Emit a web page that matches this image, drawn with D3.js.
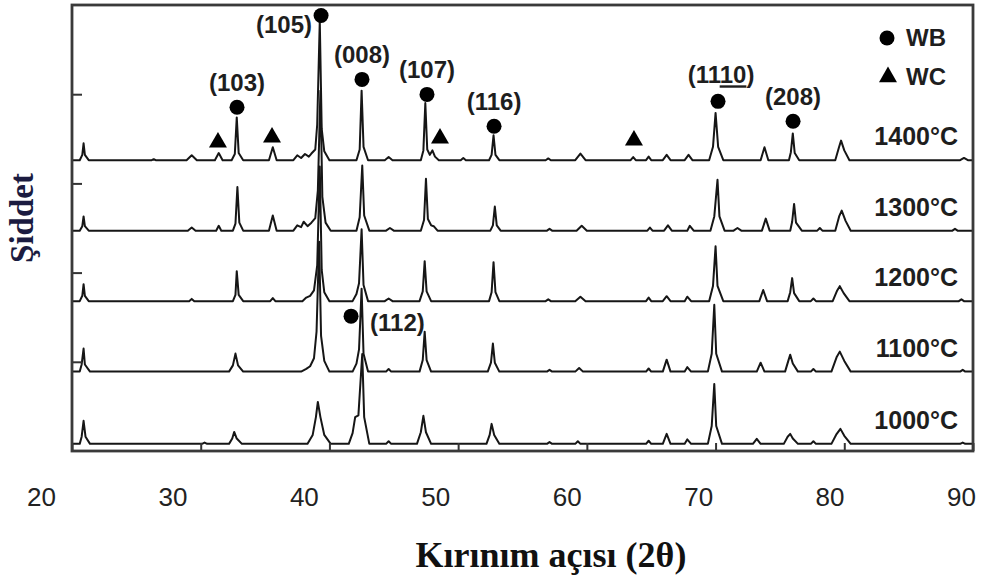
<!DOCTYPE html>
<html>
<head>
<meta charset="utf-8">
<script src="https://cdn.jsdelivr.net/npm/d3@7"></script>
<style>
  body { margin: 0; background: #fff; }
  svg { display: block; }
</style>
</head>
<body>
<svg id="chart" width="997" height="586"></svg>
<script>
// x ticks (2theta, degrees)
var thetaTicks = [20, 30, 40, 50, 60, 70, 80, 90];
var intensityTicks = [1000, 2000, 3000, 4000];

// temperatures, top to bottom, and the vertical offset of each pattern (a.u.)
var temps = ["1400°C", "1300°C", "1200°C", "1100°C", "1000°C"];
var offsets = [3260, 2470, 1680, 890, 80];

// patterns: [2theta, intensity above own baseline]
var p1400 = [[20,0],[20.6,0],[20.8,60],[20.9,190],[21.0,60],[21.3,0],
  [26.2,0],[26.35,12],[26.5,0],
  [28.9,0],[29.3,55],[29.7,0],[31.1,0],[31.4,80],[31.7,0],
  [32.4,0],[32.65,70],[32.8,480],[32.95,80],[33.3,0],
  [35.3,0],[35.6,145],[35.9,0],
  [37.2,0],[37.5,55],[37.8,25],[38.1,70],[38.4,40],[38.6,75],[38.9,120],
  [39.05,400],[39.25,1560],[39.4,350],[39.6,100],[40.0,0],
  [42.1,0],[42.35,120],[42.5,780],[42.65,150],[43.0,0],
  [44.3,0],[44.6,35],[44.9,0],
  [47.1,0],[47.3,110],[47.45,640],[47.6,120],[47.8,60],[48.0,110],[48.2,40],[48.5,0],
  [50.2,0],[50.4,25],[50.6,0],
  [52.4,0],[52.6,60],[52.75,280],[52.9,60],[53.2,0],
  [56.8,0],[57.0,20],[57.2,0],[59.1,0],[59.5,75],[59.9,0],
  [63.4,0],[63.6,35],[63.8,0],[64.6,0],[64.8,40],[65.0,0],
  [65.9,0],[66.2,60],[66.5,0],[67.6,0],[67.9,60],[68.2,0],
  [69.5,0],[69.8,150],[70.0,530],[70.2,150],[70.6,0],
  [73.5,0],[73.8,145],[74.1,0],
  [75.7,0],[75.85,90],[76.0,300],[76.15,80],[76.5,0],
  [79.3,0],[79.6,150],[79.75,220],[80.0,110],[80.4,0],
  [89.0,0],[89.3,25],[89.6,0],[90,0]];

var p1300 = [[20,0],[20.6,0],[20.8,50],[20.9,160],[21.0,50],[21.3,0],
  [29.0,0],[29.3,35],[29.6,0],[31.2,0],[31.4,55],[31.6,0],
  [32.5,0],[32.7,80],[32.85,490],[33.0,90],[33.3,0],
  [35.3,0],[35.6,170],[35.9,0],
  [37.2,0],[37.5,60],[37.8,40],[38.0,100],[38.3,50],[38.6,90],[38.9,140],
  [39.1,450],[39.3,1570],[39.45,380],[39.7,90],[40.1,0],
  [42.1,0],[42.35,150],[42.55,730],[42.7,170],[43.1,0],
  [44.4,0],[44.7,30],[45.0,0],
  [47.1,0],[47.35,120],[47.5,582],[47.65,130],[47.9,60],[48.1,50],[48.4,0],
  [52.5,0],[52.7,60],[52.85,270],[53.0,60],[53.3,0],
  [56.9,0],[57.1,20],[57.3,0],[59.2,0],[59.6,55],[60.0,0],
  [64.7,0],[64.9,35],[65.1,0],[66.0,0],[66.3,60],[66.6,0],
  [67.8,0],[68.0,55],[68.3,0],
  [69.6,0],[69.9,160],[70.15,570],[70.3,160],[70.7,0],
  [71.4,0],[71.7,30],[72.0,0],[73.6,0],[73.9,135],[74.2,0],
  [75.8,0],[75.95,100],[76.1,300],[76.25,90],[76.7,0],
  [77.9,0],[78.1,30],[78.3,0],
  [79.3,0],[79.6,160],[79.8,225],[80.1,110],[80.5,0],
  [88.4,0],[88.6,20],[88.8,0],[90,0]];

var p1200 = [[20,0],[20.6,0],[20.8,60],[20.9,190],[21.0,60],[21.3,0],
  [29.1,0],[29.3,25],[29.5,0],
  [32.5,0],[32.7,70],[32.8,336],[32.95,70],[33.3,0],
  [35.4,0],[35.6,35],[35.8,0],
  [37.9,0],[38.2,40],[38.5,60],[38.8,120],
  [39.05,400],[39.25,1510],[39.4,350],[39.6,100],[40.0,0],
  [41.8,0],[42.1,80],[42.3,200],[42.5,806],[42.65,180],[43.0,0],
  [44.3,0],[44.6,30],[44.9,0],
  [47.0,0],[47.25,110],[47.4,448],[47.55,110],[47.9,0],
  [52.4,0],[52.6,100],[52.75,437],[52.9,100],[53.2,0],
  [56.8,0],[57.0,20],[57.2,0],[59.1,0],[59.5,50],[59.9,0],
  [64.6,0],[64.8,40],[65.0,0],[65.9,0],[66.2,55],[66.5,0],
  [67.6,0],[67.8,50],[68.1,0],
  [69.5,0],[69.8,170],[70.0,616],[70.15,170],[70.6,0],
  [73.4,0],[73.7,125],[74.0,0],
  [75.6,0],[75.8,100],[75.95,258],[76.1,90],[76.5,0],
  [77.4,0],[77.6,30],[77.8,0],
  [79.1,0],[79.45,120],[79.65,168],[79.95,90],[80.4,0],
  [88.9,0],[89.1,20],[89.3,0],[90,0]];

var p1100 = [[20,0],[20.6,0],[20.75,80],[20.9,258],[21.0,80],[21.4,0],
  [32.2,0],[32.5,70],[32.7,202],[32.9,70],[33.3,0],
  [37.8,0],[38.2,30],[38.5,60],[38.8,150],
  [39.0,450],[39.2,1456],[39.35,400],[39.6,120],[40.0,0],
  [41.8,0],[42.1,90],[42.3,250],[42.5,930],[42.65,200],[43.0,0],
  [44.4,0],[44.6,30],[44.8,0],
  [47.0,0],[47.25,130],[47.4,448],[47.55,130],[47.9,0],
  [52.3,0],[52.55,100],[52.7,314],[52.85,100],[53.2,0],
  [56.9,0],[57.1,20],[57.3,0],[59.1,0],[59.4,40],[59.7,0],
  [64.6,0],[64.8,35],[65.0,0],[65.9,0],[66.2,134],[66.5,0],
  [67.6,0],[67.8,50],[68.1,0],
  [69.4,0],[69.7,200],[69.9,750],[70.05,200],[70.5,0],
  [73.2,0],[73.5,100],[73.8,0],
  [75.4,0],[75.65,120],[75.8,190],[76.0,90],[76.4,0],
  [77.4,0],[77.6,30],[77.8,0],
  [79.0,0],[79.4,160],[79.65,224],[80.0,120],[80.5,0],
  [89.0,0],[89.2,20],[89.4,0],[90,0]];

var p1000 = [[20,0],[20.6,0],[20.75,80],[20.9,258],[21.05,80],[21.4,0],
  [30.1,0],[30.3,15],[30.5,0],
  [32.2,0],[32.45,60],[32.6,134],[32.8,60],[33.2,0],
  [38.3,0],[38.7,100],[38.95,300],[39.1,470],[39.3,300],[39.6,100],[40.1,0],
  [41.5,0],[41.8,120],[42.0,300],[42.25,320],[42.55,1008],[42.7,300],[43.1,0],
  [44.4,0],[44.6,30],[44.8,0],
  [46.8,0],[47.1,130],[47.3,314],[47.5,130],[47.9,0],
  [52.2,0],[52.45,100],[52.6,224],[52.8,100],[53.2,0],
  [56.9,0],[57.1,20],[57.3,0],[59.1,0],[59.3,30],[59.5,0],
  [64.6,0],[64.8,35],[65.0,0],[65.9,0],[66.2,112],[66.5,0],
  [67.6,0],[67.8,50],[68.1,0],
  [69.4,0],[69.7,200],[69.9,672],[70.05,200],[70.5,0],
  [72.9,0],[73.2,56],[73.5,0],
  [75.3,0],[75.6,80],[75.8,112],[76.0,60],[76.4,0],
  [77.4,0],[77.6,30],[77.8,0],
  [79.0,0],[79.4,110],[79.7,168],[80.0,90],[80.5,0],
  [89.0,0],[89.2,15],[89.4,0],[90,0]];

var patterns = [p1400, p1300, p1200, p1100, p1000];

// WB reflections: [hkl, 2theta, level]
var wbPeaks = [["(103)",32.82,3853],["(105)",39.35,4883],["(008)",42.53,4166],
  ["(107)",47.58,3998],["(116)",52.79,3640],["(1110)",70.19,3920],
  ["(208)",76.02,3696],["(112)",41.68,1512]];
// WC reflections: [2theta, level]
var wcPeaks = [[31.34,3461],[35.54,3517],[48.59,3506],[63.66,3483]];

var svg = d3.select("#chart");
var L = 72, R = 973, T = 5, B = 451;
var x = d3.scaleLinear().domain([20, 90]).range([L, R]);
var y = d3.scaleLinear().domain([0, 5000]).range([B, T]);
// the tick labels sit on their own spacing in the figure
var xl = d3.scaleLinear().domain([20, 90]).range([41, 961]);

var ink = "#161616";
var lab = "Liberation Sans, Arial, sans-serif";

// traces
var line = d3.line().x(function(d){ return x(d[0]); });
patterns.forEach(function(p, i){
  line.y(function(d){ return y(d[1] + offsets[i]); });
  svg.append("path")
    .attr("d", line(p))
    .attr("fill", "none")
    .attr("stroke", ink)
    .attr("stroke-width", 2)
    .attr("stroke-linejoin", "round");
  svg.append("text")
    .attr("x", 958)
    .attr("y", y(offsets[i]) - 15)
    .attr("text-anchor", "end")
    .attr("font-family", lab)
    .attr("font-weight", "bold")
    .attr("font-size", 25)
    .attr("fill", "#1e1e1e")
    .text(temps[i]);
});

// axes (inward ticks, no labels)
var gx = svg.append("g").attr("transform", "translate(0," + B + ")")
  .call(d3.axisBottom(x).tickValues(thetaTicks).tickSize(-8).tickFormat(""));
var gy = svg.append("g").attr("transform", "translate(" + L + ",0)")
  .call(d3.axisLeft(y).tickValues(intensityTicks).tickSize(-10).tickFormat(""));
[gx, gy].forEach(function(g){
  g.select(".domain").remove();
  g.selectAll(".tick line").attr("stroke", "#333").attr("stroke-width", 2);
});

svg.append("rect")
  .attr("x", L).attr("y", T)
  .attr("width", R - L).attr("height", B - T)
  .attr("fill", "none")
  .attr("stroke", "#3a3a3a")
  .attr("stroke-width", 2.8);

// tick labels
var gl = svg.append("g").attr("transform", "translate(0,488)")
  .call(d3.axisBottom(xl).tickValues(thetaTicks).tickSize(0).tickPadding(0));
gl.select(".domain").remove();
gl.selectAll("text")
  .attr("font-family", lab)
  .attr("font-size", 26)
  .attr("fill", "#222");

// markers
wbPeaks.forEach(function(d){
  var cx = x(d[1]), cy = y(d[2]);
  svg.append("circle").attr("cx", cx).attr("cy", cy).attr("r", 7.5).attr("fill", "#000");
  var t = svg.append("text")
    .attr("font-family", lab).attr("font-weight", "bold")
    .attr("font-size", 24).attr("fill", "#1e1e1e");
  if (d[0] === "(105)") {
    t.attr("x", cx - 9).attr("y", cy + 18).attr("text-anchor", "end").text(d[0]);
  } else if (d[0] === "(112)") {
    t.attr("x", cx + 19).attr("y", cy + 15).attr("text-anchor", "start").text(d[0]);
  } else if (d[0] === "(1110)") {
    t.attr("x", cx + 3).attr("y", cy - 18).attr("text-anchor", "middle");
    t.append("tspan").text("(11");
    t.append("tspan").style("text-decoration", "underline").text("10");
    t.append("tspan").text(")");
  } else {
    t.attr("x", cx).attr("y", cy - 16).attr("text-anchor", "middle").text(d[0]);
  }
});
var tri = d3.symbol().type(d3.symbolTriangle).size(140);
wcPeaks.forEach(function(d){
  svg.append("path").attr("d", tri())
    .attr("transform", "translate(" + x(d[0]) + "," + y(d[1]) + ")")
    .attr("fill", "#000");
});

// legend
svg.append("circle").attr("cx", 887).attr("cy", 38).attr("r", 7.5).attr("fill", "#000");
svg.append("text").attr("x", 906).attr("y", 46)
  .attr("font-family", lab).attr("font-weight", "bold").attr("font-size", 24)
  .attr("fill", "#1e1e1e").text("WB");
svg.append("path").attr("d", tri()).attr("transform", "translate(888,77)").attr("fill", "#000");
svg.append("text").attr("x", 906).attr("y", 85)
  .attr("font-family", lab).attr("font-weight", "bold").attr("font-size", 24)
  .attr("fill", "#1e1e1e").text("WC");

// axis titles
svg.append("text")
  .attr("transform", "translate(33,218) rotate(-90)")
  .attr("text-anchor", "middle")
  .attr("font-family", "Liberation Serif, Times New Roman, serif")
  .attr("font-weight", "bold")
  .attr("font-size", 33)
  .attr("fill", "#1b1b40")
  .text("Şiddet");
svg.append("text")
  .attr("x", 551).attr("y", 567)
  .attr("text-anchor", "middle")
  .attr("font-family", "Liberation Serif, Times New Roman, serif")
  .attr("font-weight", "bold")
  .attr("font-size", 36)
  .attr("fill", "#111")
  .text("Kırınım açısı (2θ)");
</script>
</body>
</html>
